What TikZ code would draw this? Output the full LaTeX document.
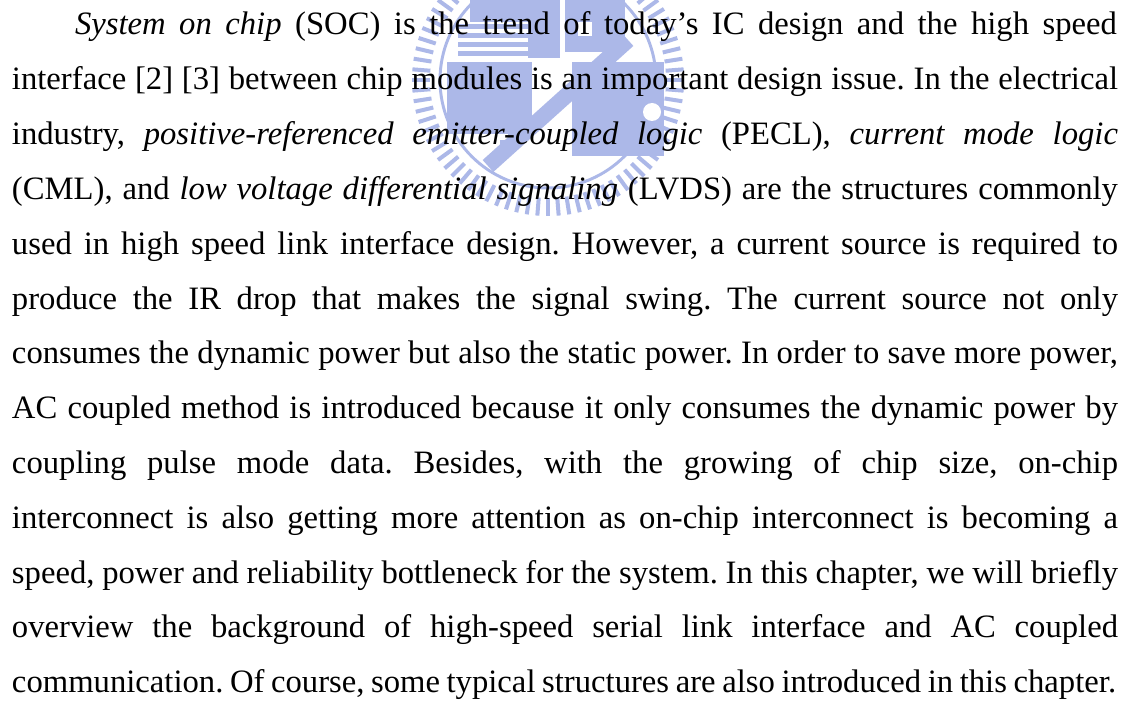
\documentclass[tikz,border=0pt]{standalone}
\usepackage{fontspec}
\setmainfont{Liberation Serif}
\definecolor{wm}{RGB}{172,184,232}
\tikzset{
  ln/.style={anchor=base west, inner sep=0pt, outer sep=0pt, font=\fontsize{24.5}{41}\selectfont\frenchspacing},
  wmfill/.style={fill=wm, draw=none}
}
\newcommand{\fl}[2]{\makebox[#1][s]{#2}}
\begin{document}
\begin{tikzpicture}[x=0.75pt, y=-0.75pt]
\useasboundingbox (0,0) rectangle (1126,702);
\fill[white] (0,0) rectangle (1126,702);
% ---- watermark (NCTU logo, faint) ----
\begin{scope}
\clip (0,0) rectangle (1126,702);
\foreach \a in {0,4.5,...,355.5} {
  \fill[wm, rotate around={\a:(548,80)}] (546,-56) rectangle (550,-38);
}
\draw[wm, line width=2.2pt] (548,80) circle[radius=108];
% upper block
\fill[wmfill] (470,0) rectangle (560,22);
\foreach \yy in {24,33,42,51} { \fill[wmfill] (458,\yy) rectangle (528,\yy+5); }
\fill[wmfill] (528,22) rectangle (560,58);
% right top block with small window
\fill[wmfill] (565,0) rectangle (625,52);
\fill[white] (578,22) rectangle (592,36);
% left block
\fill[wmfill] (447,62) rectangle (532,134);
% right block with notch
\fill[wmfill] (572,62) rectangle (664,156);
\fill[white] (652,112) circle[radius=9];
% diagonal bar
\draw[white, line width=6pt, line cap=butt] (488,166) -- (628,40);
\draw[wm, line width=12pt, line cap=butt] (488,166) -- (628,40);
% ladder along lower part of bar
\foreach \t in {0,1,2,3} {
  \fill[wmfill] (500+8*\t,140-7*\t) rectangle (512+8*\t,145-7*\t);
}
\end{scope}
% ---- text ----
\node[ln] (l1) at (75,35) {\fl{781.5pt}{\textit{System on chip} (SOC) is the trend of today’s IC design and the high speed}};
\node[ln] (l2) at (12,89.8) {\fl{829.5pt}{interface [2] [3] between chip modules is an important design issue. In the electrical}};
\node[ln] (l3) at (12,144.6) {\fl{829.5pt}{industry, \textit{positive-referenced emitter-coupled logic} (PECL), \textit{current mode logic}}};
\node[ln] (l4) at (12,199.4) {\fl{829.5pt}{(CML), and \textit{low voltage differential signaling} (LVDS) are the structures commonly}};
\node[ln] (l5) at (12,254.2) {\fl{829.5pt}{used in high speed link interface design. However, a current source is required to}};
\node[ln] (l6) at (12,309.0) {\fl{829.5pt}{produce the IR drop that makes the signal swing. The current source not only}};
\node[ln] (l7) at (12,363.8) {\fl{829.5pt}{consumes the dynamic power but also the static power. In order to save more power,}};
\node[ln] (l8) at (12,418.6) {\fl{829.5pt}{AC coupled method is introduced because it only consumes the dynamic power by}};
\node[ln] (l9) at (12,473.4) {\fl{829.5pt}{coupling pulse mode data. Besides, with the growing of chip size, on-chip}};
\node[ln] (l10) at (12,528.2) {\fl{829.5pt}{interconnect is also getting more attention as on-chip interconnect is becoming a}};
\node[ln] (l11) at (12,583.0) {\fl{829.5pt}{speed, power and reliability bottleneck for the system. In this chapter, we will briefly}};
\node[ln] (l12) at (12,637.8) {\fl{829.5pt}{overview the background of high-speed serial link interface and AC coupled}};
\node[ln] (l13) at (12,692.6) {\fl{828pt}{communication. Of course, some typical structures are also introduced in this chapter.}};
\end{tikzpicture}
\end{document}
